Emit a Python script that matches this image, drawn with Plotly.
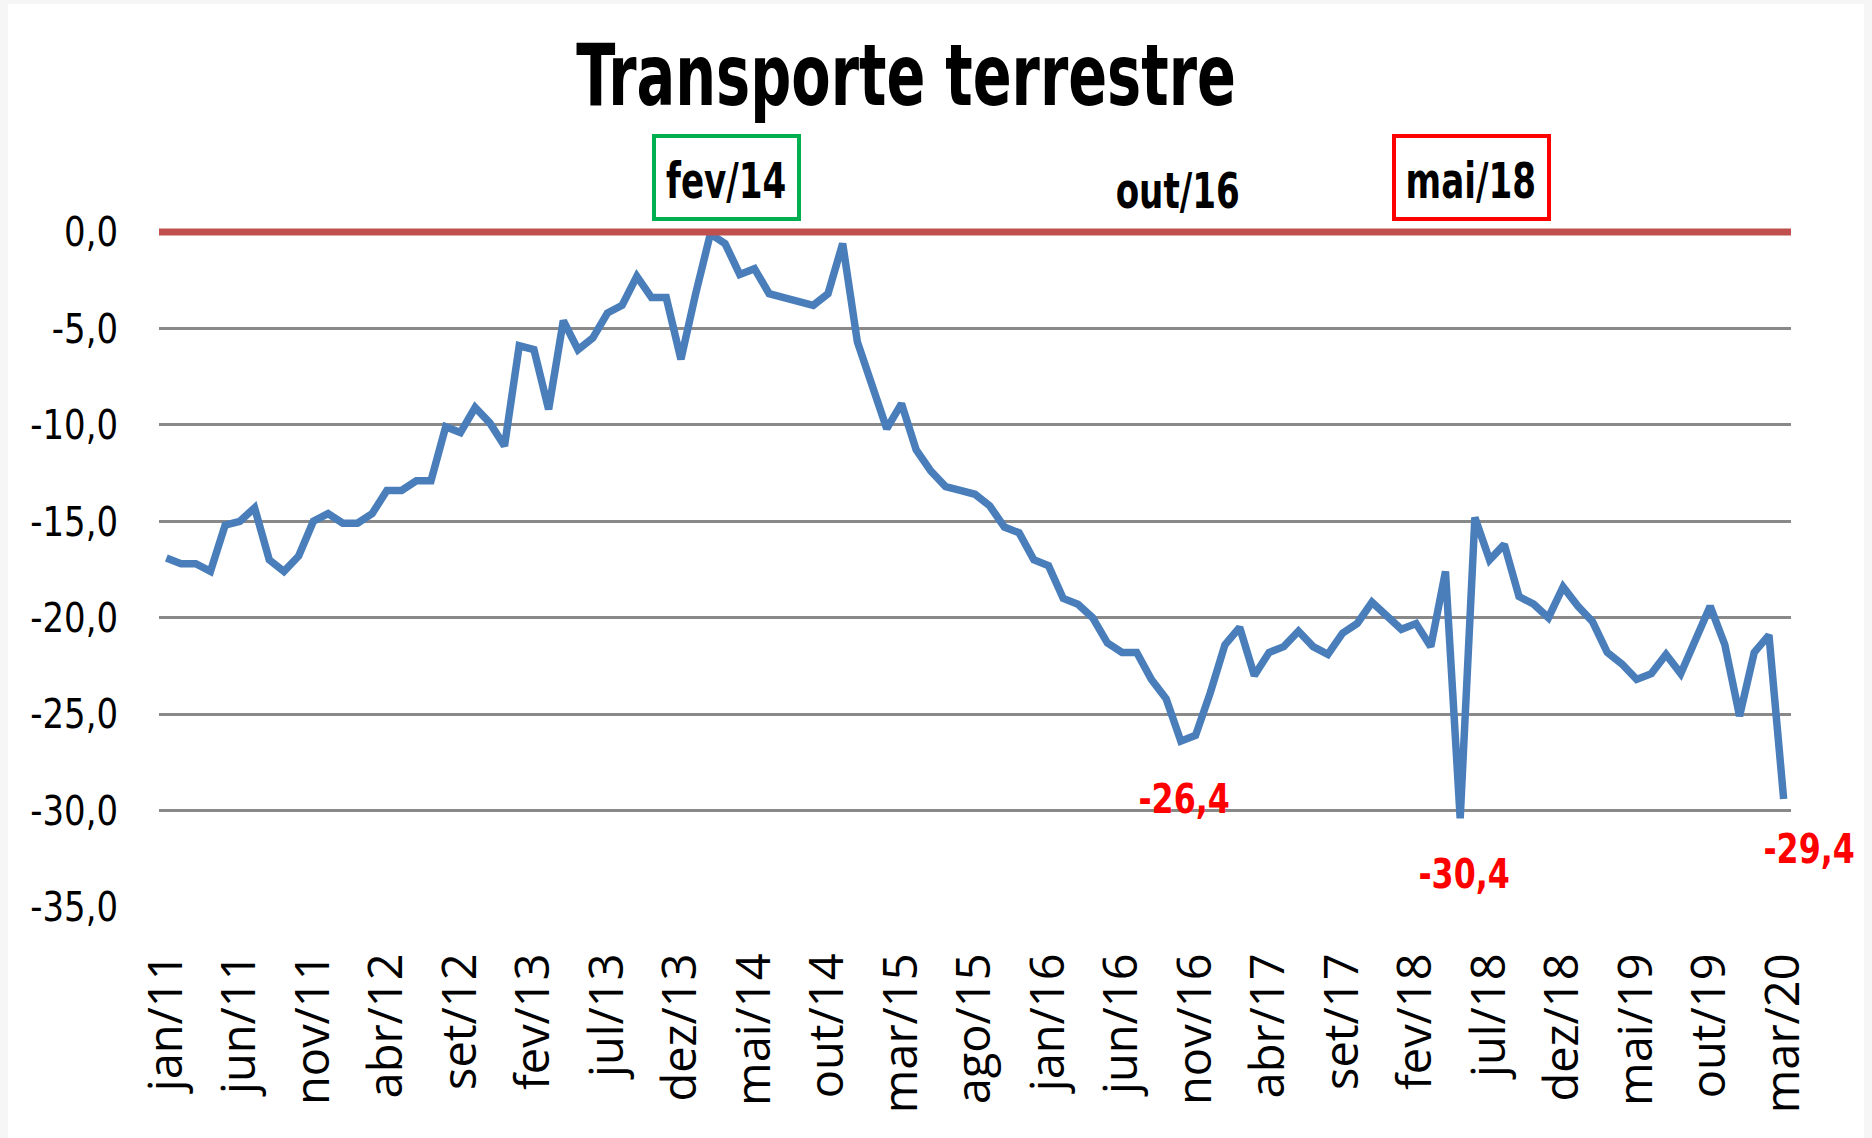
import plotly.graph_objects as go

# ---------------- data ----------------
month_names = ["jan", "fev", "mar", "abr", "mai", "jun", "jul", "ago", "set", "out", "nov", "dez"]
year_labels = ["11", "12", "13", "14", "15", "16", "17", "18", "19", "20"]
categories = [f"{m}/{y}" for y in year_labels for m in month_names][:111]  # jan/11 .. mar/20

values = [
    -16.9, -17.2, -17.2, -17.6, -15.2, -15.0, -14.3, -17.0, -17.6, -16.8,
    -15.0, -14.6, -15.1, -15.1, -14.6, -13.4, -13.4, -12.9, -12.9, -10.1,
    -10.4, -9.1, -9.9, -11.1, -5.9, -6.1, -9.2, -4.6, -6.1, -5.5,
    -4.2, -3.8, -2.3, -3.4, -3.4, -6.6, -3.2, -0.1, -0.6, -2.2,
    -1.9, -3.2, -3.4, -3.6, -3.8, -3.2, -0.6, -5.7, -7.9, -10.2,
    -8.9, -11.3, -12.4, -13.2, -13.4, -13.6, -14.2, -15.3, -15.6, -17.0,
    -17.3, -19.0, -19.3, -20.0, -21.3, -21.8, -21.8, -23.2, -24.2, -26.4,
    -26.1, -23.9, -21.4, -20.5, -23.0, -21.8, -21.5, -20.7, -21.5, -21.9,
    -20.8, -20.3, -19.2, -19.9, -20.6, -20.3, -21.5, -17.6, -30.4, -14.8,
    -17.0, -16.2, -18.9, -19.3, -20.0, -18.4, -19.4, -20.2, -21.8, -22.4,
    -23.2, -22.9, -21.9, -22.9, -21.2, -19.4, -21.4, -25.1, -21.8, -20.9,
    -29.4,
]

x_tick_labels = categories[::5]
y_tick_values = [0, -5, -10, -15, -20, -25, -30, -35]
y_tick_labels = ["0,0", "-5,0", "-10,0", "-15,0", "-20,0", "-25,0", "-30,0", "-35,0"]

title_text = "Transporte terrestre"

# month markers shown above the chart and their box colours
marker_months = ["fev/14", "out/16", "mai/18"]
marker_box_colors = ["#00B050", None, "#FF0000"]

# highlighted minima
label_months = ["out/16", "mai/18", "mar/20"]
label_texts = ["-26,4", "-30,4", "-29,4"]

# ---------------- styling ----------------
NARROW = "Liberation Sans Narrow, DejaVu Sans Condensed, Arial Narrow, sans-serif"
WIDE = "Open Sans, Liberation Sans, sans-serif"
BLUE = "#4A7EBB"
AXIS_RED = "#C0504D"
GRID = "#898989"

L, R, T, B = 159, 81, 232, 231
W, H = 1872, 1138

fig = go.Figure()
fig.add_trace(go.Scatter(
    x=categories, y=values, mode="lines",
    line=dict(color=BLUE, width=7.5),
    hoverinfo="x+y", showlegend=False,
))

annotations = []
marker_shifts = [(16, 51), (-3, 41), (11, 51)]
box_widths = [129, None, 139]
for m, col, (dx, dy), bw in zip(marker_months, marker_box_colors, marker_shifts, box_widths):
    if col:
        # frame around the month label
        annotations.append(dict(
            x=m, xref="x", y=1, yref="paper", yanchor="middle", xanchor="center",
            xshift=dx, yshift=55, text="&nbsp;", showarrow=False,
            font=dict(family=NARROW, size=20, color="black"),
            bordercolor=col, borderwidth=4, borderpad=6, width=bw, height=67,
        ))
    annotations.append(dict(
        x=m, xref="x", y=1, yref="paper", yanchor="middle", xanchor="center",
        xshift=dx, yshift=dy, text=m, showarrow=False,
        font=dict(family=NARROW, size=50, color="black", weight="bold"),
    ))

label_shifts = [(3, -58), (4, -56), (25, -50)]
for m, t, (dx, dy) in zip(label_months, label_texts, label_shifts):
    annotations.append(dict(
        x=m, xref="x", y=values[categories.index(m)], yref="y",
        xanchor="center", yanchor="middle", xshift=dx, yshift=dy,
        text=t, showarrow=False,
        font=dict(family=NARROW, size=41, color="#FF0000", weight="bold"),
    ))

plot_w = W - L - R
plot_h = H - T - B
shapes = [
    # white chart area over light grey page frame
    dict(type="rect", xref="paper", yref="paper", layer="below",
         x0=(8 - L) / plot_w, x1=(W - 8 - L) / plot_w,
         y0=-B / plot_h, y1=(H - 4 - B) / plot_h,
         fillcolor="white", line=dict(width=0)),
    # category axis crossing at 0
    dict(type="line", xref="paper", yref="paper", layer="above",
         x0=0, x1=1, y0=1, y1=1,
         line=dict(color=AXIS_RED, width=7)),
]

fig.update_layout(
    width=W, height=H,
    margin=dict(l=L, r=R, t=T, b=B),
    paper_bgcolor="#F6F6F6", plot_bgcolor="white",
    title=dict(
        text=title_text, x=906 / W, xanchor="center", xref="container",
        y=1 - 75.5 / H, yanchor="middle", yref="container",
        font=dict(family=NARROW, size=85, color="black", weight="bold"),
    ),
    xaxis=dict(
        type="category", range=[-0.5, len(categories) - 0.5],
        tickmode="array", tickvals=x_tick_labels, ticktext=x_tick_labels,
        tickangle=-90, tickfont=dict(family=WIDE, size=47, color="black"),
        showgrid=False, zeroline=False, showline=False, ticks="",
        ticklabelstandoff=36,
    ),
    yaxis=dict(
        range=[-35, 0], tickmode="array", tickvals=y_tick_values, ticktext=y_tick_labels,
        tickfont=dict(family=NARROW, size=41, color="black"),
        showgrid=True, gridcolor=GRID, gridwidth=3,
        zeroline=False, showline=False, ticks="",
        ticklabelstandoff=40,
    ),
    annotations=annotations,
    shapes=shapes,
    showlegend=False,
)

# The reference uses a narrow (Calibri-like) face; squeeze the condensed text horizontally.
post = """
document.body.style.margin='0';document.body.style.overflow='hidden';
function squeeze(sel, s, filter){
  document.querySelectorAll(sel).forEach(function(t){
    try{
      if(filter && !filter(t)) return;
      var b=t.getBBox();
      if(b.width < 5) return;
      var a=window.getComputedStyle(t).textAnchor || t.getAttribute('text-anchor') || 'start';
      var cx = a==='middle' ? b.x+b.width/2 : (a==='end' ? b.x+b.width : b.x);
      var tr=t.getAttribute('transform')||'';
      t.setAttribute('transform', tr+' translate('+cx+',0) scale('+s+',1) translate('+(-cx)+',0)');
    }catch(e){}
  });
}
function isRed(t){ return (t.style.fill||'').replace(/\\s/g,'').indexOf('255,0,0')>=0; }
squeeze('.gtitle', 0.75);
squeeze('.annotation-text', 0.76, function(t){return !isRed(t);});
squeeze('.annotation-text', 0.86, isRed);
squeeze('.ytick text', 0.92);
"""

fig.write_html("out.html", post_script=post, config={"displayModeBar": False})
